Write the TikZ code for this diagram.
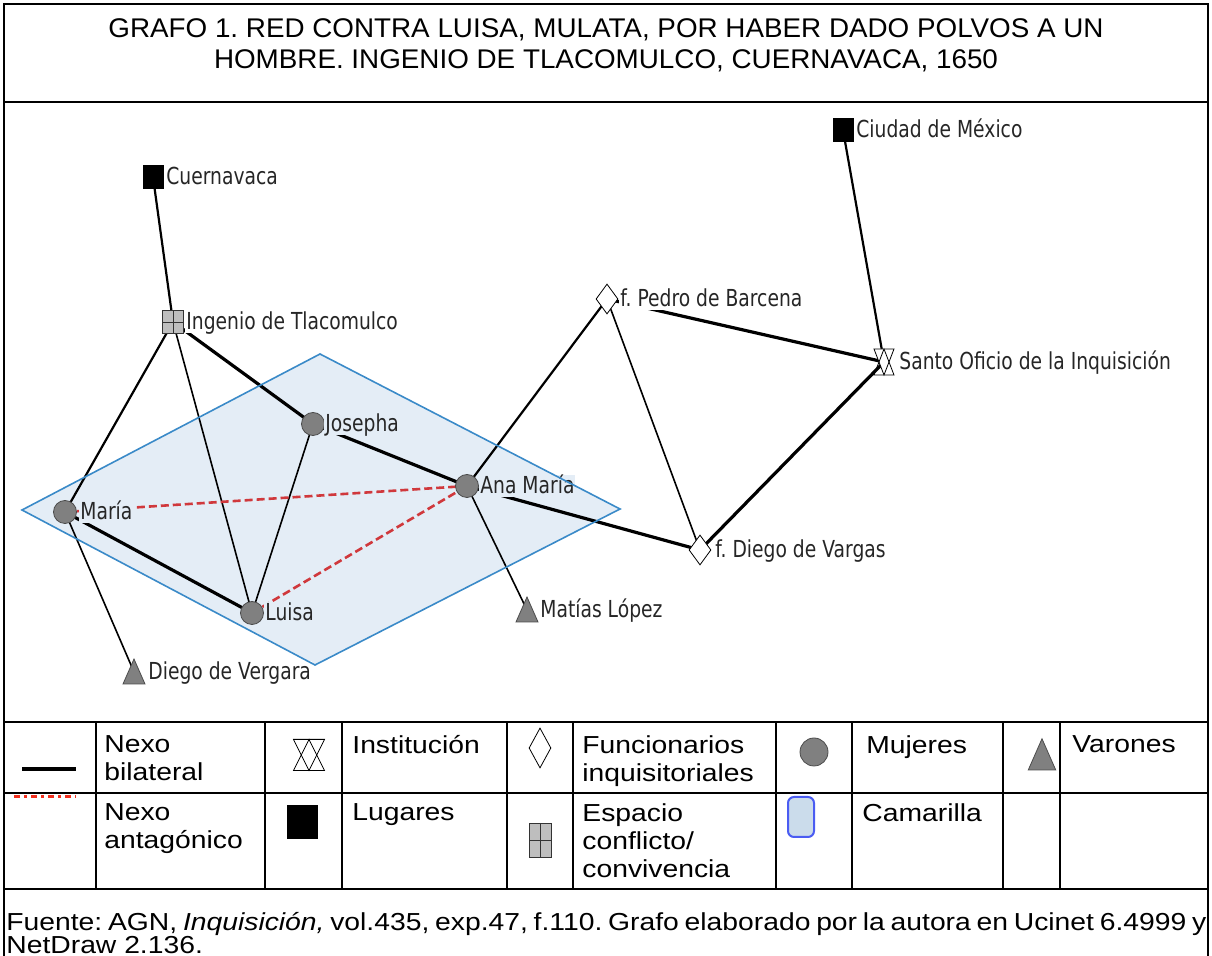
\documentclass[tikz,border=0pt]{standalone}
\usepackage{fontspec}
\setmainfont{Liberation Sans}
\newfontfamily\titfont[FakeStretch=1.03]{Liberation Sans}
\newfontfamily\leyfont[FakeStretch=1.15]{Liberation Sans}
\newfontfamily\netfont[FakeStretch=0.8]{DejaVu Sans}
\usetikzlibrary{positioning,shapes.geometric}

\definecolor{camfill}{HTML}{E4EDF6}
\definecolor{camline}{HTML}{3A8AC8}
\definecolor{antared}{HTML}{D0383C}
\definecolor{legred}{HTML}{F2301E}
\definecolor{mujgray}{HTML}{808080}
\definecolor{espgray}{HTML}{BEBEBE}
\definecolor{legblue}{HTML}{4A5CF2}
\definecolor{legfill}{HTML}{CBDCEB}

\tikzset{
  nexo/.style={line width=0.8pt},
  nexo medio/.style={line width=1.1pt},
  nexo fuerte/.style={line width=1.6pt},
  antag/.style={antared, line width=1.3pt, dash pattern=on 4pt off 2pt},
  lugar/.style={draw, fill=black, minimum width=10pt, minimum height=11.5pt, inner sep=0pt},
  espacio/.style={draw=black!80, fill=espgray, minimum width=10.5pt, minimum height=11.5pt, inner sep=0pt,
    path picture={\draw[black!80] (path picture bounding box.north) -- (path picture bounding box.south)
      (path picture bounding box.west) -- (path picture bounding box.east);}},
  mujer/.style={circle, draw=black!70, fill=mujgray, minimum size=11.5pt, inner sep=0pt},
  funcionario/.style={diamond, draw, fill=white, minimum width=11pt, minimum height=15pt, inner sep=0pt},
  etq/.style={font=\netfont\fontsize{11.7}{14}\selectfont, text=black!85, fill=white,
    inner sep=0.5pt, text height=9pt, text depth=1pt},
  leyenda/.style={font=\leyfont\fontsize{12.3}{14}\selectfont, anchor=north west, align=left, inner sep=0pt},
  varon/.pic={\draw[black!70, fill=mujgray] (-11,12) -- (11,12) -- (0,-13) -- cycle;},
  institucion/.pic={\draw[fill=white] (-10,-13) -- (10,-13) -- (0,13) -- cycle;
    \draw (-10,13) -- (10,13) -- (0,-13) -- cycle;}
}

\begin{document}
\frenchspacing
\begin{tikzpicture}[x=0.5pt,y=-0.5pt]
\useasboundingbox (0,0) rectangle (1212,956);

%%% frame and title
\draw[line width=1.4pt] (4,956) -- (4,4) -- (1208,4) -- (1208,956);
\draw[line width=1.2pt] (4,102) -- (1208,102);
\node[font=\titfont\fontsize{13.5}{15.5}\selectfont, align=center, anchor=north, inner sep=0pt] (titulo) at (606,18)
  {GRAFO 1. RED CONTRA LUISA, MULATA, POR HABER DADO POLVOS A UN\\HOMBRE. INGENIO DE TLACOMULCO, CUERNAVACA, 1650};

%%% actors
\coordinate (cuer) at (153,177);
\coordinate (ingenio) at (173,322);
\coordinate (cdmx) at (843,130);
\coordinate (pedro) at (607,299);
\coordinate (santo) at (884,362);
\coordinate (josepha) at (313,424);
\coordinate (anamaria) at (467,486);
\coordinate (maria) at (65,512);
\coordinate (luisa) at (252,613);
\coordinate (vargas) at (700,550);
\coordinate (matias) at (527,610);
\coordinate (vergara) at (134,672);

% camarilla
\fill[camfill] (22,510) -- (320,354) -- (620,509) -- (315,665) -- cycle;

% nexos
\draw[nexo medio] (cuer) -- (ingenio);
\draw[nexo medio] (ingenio) -- (maria);
\draw[nexo] (ingenio) -- (luisa);
\draw[nexo fuerte] (ingenio) -- (josepha);
\draw[nexo] (josepha) -- (luisa);
\draw[nexo fuerte] (josepha) -- (anamaria);
\draw[nexo fuerte] (maria) -- (luisa);
\draw[nexo] (maria) -- (vergara);
\draw[nexo medio] (anamaria) -- (pedro);
\draw[nexo] (anamaria) -- (matias);
\draw[nexo fuerte] (anamaria) -- (vargas);
\draw[nexo] (pedro) -- (vargas);
\draw[nexo fuerte] (pedro) -- (santo);
\draw[nexo fuerte] (vargas) -- (santo);
\draw[nexo medio] (cdmx) -- (santo);
\draw[antag] (maria) -- (anamaria);
\draw[antag] (luisa) -- (anamaria);

% symbols
\node[lugar] (cuer s) at (cuer) {};
\node[lugar] (cdmx s) at (cdmx) {};
\node[espacio] (ingenio s) at (ingenio) {};
\node[funcionario] (pedro s) at (pedro) {};
\node[funcionario] (vargas s) at (vargas) {};
\node[mujer] (josepha s) at (josepha) {};
\node[mujer] (anamaria s) at (anamaria) {};
\node[mujer] (maria s) at (maria) {};
\node[mujer] (luisa s) at (luisa) {};
\pic at (santo) {institucion};
\pic at (matias) {varon};
\pic at (vergara) {varon};

% labels
\node[etq, right=6pt of cuer] (cuer l) {Cuernavaca};
\node[etq, right=6pt of cdmx] (cdmx l) {Ciudad de México};
\node[etq, right=6pt of ingenio] (ingenio l) {Ingenio de Tlacomulco};
\node[etq, right=6pt of pedro] (pedro l) {f. Pedro de Barcena};
\node[etq, right=7pt of santo] (santo l) {Santo Oficio de la Inquisición};
\node[etq, right=7pt of vargas] (vargas l) {f. Diego de Vargas};
\node[etq, right=6pt of matias] (matias l) {Matías López};
\node[etq, right=6.5pt of vergara] (vergara l) {Diego de Vergara};
\node[etq, fill=camfill, right=5.5pt of josepha] (josepha l) {Josepha};
\node[etq, fill=camfill, right=6pt of anamaria] (anamaria l) {Ana María};
\node[etq, fill=camfill, right=7pt of maria] (maria l) {María};
\node[etq, fill=camfill, right=6pt of luisa] (luisa l) {Luisa};

\draw[camline, line width=0.8pt] (22,510) -- (320,354) -- (620,509) -- (315,665) -- cycle;

%%% legend
\draw[line width=1.2pt] (4,722) -- (1208,722) (4,793) -- (1208,793) (4,889) -- (1208,889);
\foreach \cx in {96,265,342,507,573,776,852,1003,1060}
  \draw[line width=1.2pt] (\cx,722) -- (\cx,889);

\draw[nexo fuerte] (22,769) -- (76,769);
\draw[legred, line width=1.5pt, dash pattern=on 3pt off 2pt on 1.5pt off 2pt] (14,797) -- (76,797);
\pic[xscale=1.55, yscale=1.2] at (309,755) {institucion};
\node[lugar, minimum width=15pt, minimum height=16.5pt] (leg lugar) at (302,822) {};
\node[funcionario, minimum width=11pt, minimum height=20pt] (leg func) at (540,748) {};
\node[espacio, minimum width=11pt, minimum height=17pt] (leg esp) at (540,840) {};
\node[mujer, minimum size=14pt] (leg mujer) at (814,752) {};
\node[draw=legblue, fill=legfill, line width=1pt, rounded corners=3pt, minimum width=13pt,
  minimum height=20pt, inner sep=0pt] (leg cam) at (801,817) {};
\pic[scale=1.25] at (1042,755) {varon};

\node[leyenda] (l nexo) at (104,735) {Nexo\\bilateral};
\node[leyenda] (l antag) at (104,803) {Nexo\\antagónico};
\node[leyenda] (l inst) at (352,735) {Institución};
\node[leyenda] (l lug) at (352,803) {Lugares};
\node[leyenda] (l func) at (582,735) {Funcionarios\\inquisitoriales};
\node[leyenda] (l esp) at (582,803) {Espacio\\conflicto/\\convivencia};
\node[leyenda] (l muj) at (866,735) {Mujeres};
\node[leyenda] (l cam) at (862,803) {Camarilla};
\node[leyenda] (l var) at (1072,735) {Varones};

%%% source
\node[anchor=south west, inner sep=0pt, text width=600pt, align=justify,
  font=\leyfont\fontsize{12.3}{11.5}\selectfont] (fuente) at (6,954)
  {Fuente: AGN, \textit{Inquisición,} vol.435, exp.47, f.110. Grafo elaborado por la autora en Ucinet 6.4999 y\linebreak NetDraw 2.136.};
\end{tikzpicture}
\end{document}
